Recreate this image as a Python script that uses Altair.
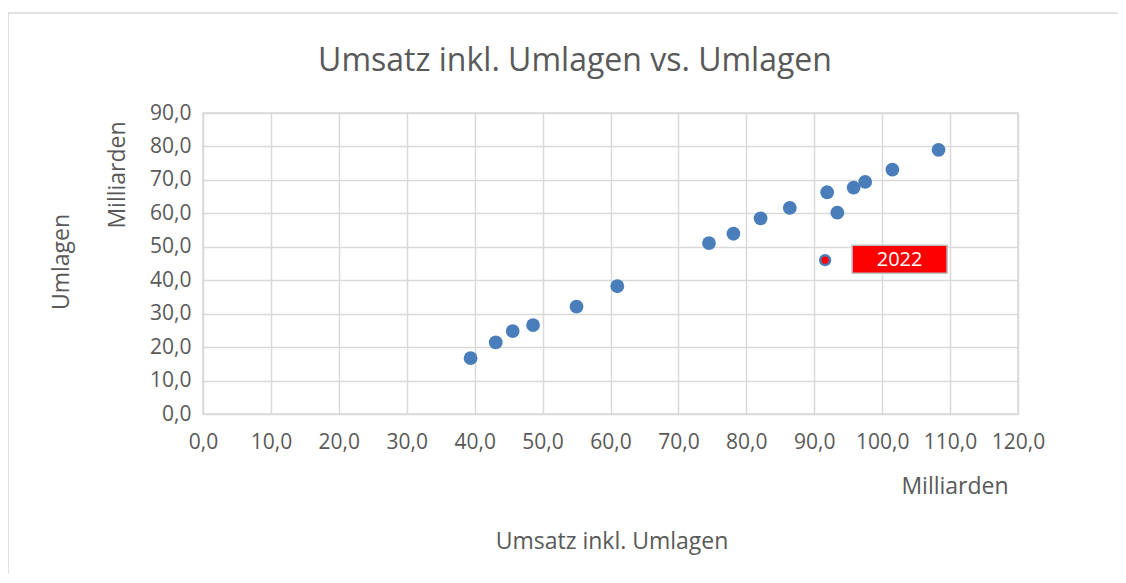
import altair as alt
import pandas as pd

# Data (Milliarden)
umsatz = [39.4, 43.1, 45.6, 48.6, 55.0, 61.0, 74.5, 78.1, 82.1, 86.4, 91.9, 93.4, 95.8, 97.5, 101.5, 108.3]
umlagen = [16.7, 21.4, 24.8, 26.6, 32.1, 38.2, 51.1, 53.9, 58.5, 61.6, 66.3, 60.2, 67.7, 69.4, 73.1, 79.0]
hl_label = ["2022"]
hl_umsatz = [91.6]
hl_umlagen = [46.0]

x_ticks = list(range(0, 130, 10))
y_ticks = list(range(0, 100, 10))

TXT = "#595959"
FONT = "Open Sans"
BLUE = "#4a7ebb"

df = pd.DataFrame({"x": umsatz, "y": umlagen})
hl = pd.DataFrame({"x": hl_umsatz, "y": hl_umlagen, "label": hl_label})

label_expr = "replace(format(datum.value, '.1f'), '.', ',')"

xs = alt.Scale(domain=[0, 120], nice=False, zero=True)
ys = alt.Scale(domain=[0, 90], nice=False, zero=True)

xax = alt.Axis(values=x_ticks, labelExpr=label_expr, title=None, grid=True,
               gridColor="#d9d9d9", gridWidth=1.5, domain=False, ticks=False,
               labelFont=FONT, labelFontSize=21, labelColor=TXT, labelPadding=17,
               labelOverlap=False, labelFlush=False)
yax = alt.Axis(values=y_ticks, labelExpr=label_expr, title=None, grid=True,
               gridColor="#d9d9d9", gridWidth=1.5, domain=False, ticks=False,
               labelFont=FONT, labelFontSize=21, labelColor=TXT, labelPadding=12,
               labelOverlap=False, labelFlush=False, tickCount=10)

def X():
    return alt.X("x:Q", scale=xs, axis=xax)

def Y():
    return alt.Y("y:Q", scale=ys, axis=yax)

points = alt.Chart(df).mark_circle(size=190, color=BLUE, opacity=1).encode(x=X(), y=Y())

hl_outer = alt.Chart(hl).mark_circle(size=150, color=BLUE, opacity=1).encode(x=X(), y=Y())
hl_inner = alt.Chart(hl).mark_circle(size=55, color="#ff0000", opacity=1).encode(x=X(), y=Y())

hl_box = alt.Chart(hl).mark_rect(color="#ff0000", stroke="#bfbfbf", strokeWidth=1.5,
                                 xOffset=27, x2Offset=122, yOffset=-15, y2Offset=13).encode(
    x=X(), x2="x:Q", y=Y(), y2="y:Q")
hl_text = alt.Chart(hl).mark_text(color="white", font=FONT, fontSize=20, dx=74.5, dy=0,
                                  align="center", baseline="middle").encode(
    x=X(), y=Y(), text="label:N")

def txt(s, x, y, size, angle=0):
    kw = dict(font=FONT, fontSize=size, color=TXT, align="center", baseline="middle")
    if angle:
        kw["angle"] = angle
    return alt.Chart(pd.DataFrame({"t": [s]})).mark_text(**kw).encode(
        x=alt.value(x), y=alt.value(y), text="t:N")

border = alt.Chart(pd.DataFrame({"a": [0]})).mark_rect(
    fill="white", fillOpacity=0, stroke="#d9d9d9", strokeWidth=1.5).encode(
    x=alt.value(-195), x2=alt.value(930), y=alt.value(-100), y2=alt.value(490))

chart = alt.layer(
    border,
    points,
    hl_outer,
    hl_inner,
    hl_box,
    hl_text,
    txt("Umsatz inkl. Umlagen vs. Umlagen", 372, -52, 32),
    txt("Umlagen", -141, 149, 23, 270),
    txt("Milliarden", -85, 62, 23, 270),
    txt("Milliarden", 752, 374, 23),
    txt("Umsatz inkl. Umlagen", 409, 429, 23),
).properties(
    width=815, height=301,
    autosize=alt.AutoSizeParams(type="none"),
    padding={"left": 195, "top": 105, "right": 100, "bottom": 160},
).configure_view(stroke="#d9d9d9", strokeWidth=1.5)

chart.save("out.html", embed_options={"renderer": "svg", "actions": False})
